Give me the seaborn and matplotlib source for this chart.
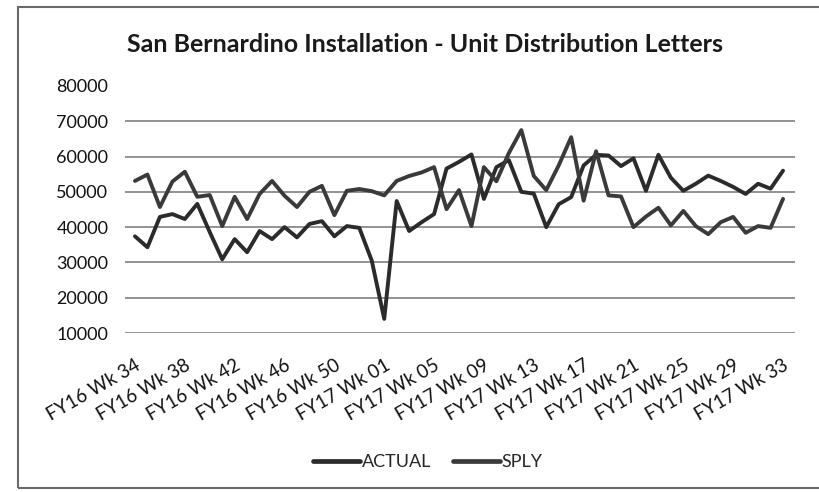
import matplotlib
matplotlib.use("Agg")
import matplotlib.pyplot as plt
import matplotlib.patches as patches
import matplotlib.transforms as mtransforms
import seaborn as sns
import pandas as pd

weeks = [f"FY16 Wk {w:02d}" for w in range(34, 54)] + [f"FY17 Wk {w:02d}" for w in range(1, 34)]

actual = [37400, 34300, 42900, 43700, 42300, 46600, 38600, 30900, 36600, 32900,
          38900, 36600, 40000, 37100, 40900, 41700, 37400, 40300, 39800, 30500,
          14000, 47400, 38900, 41400, 43700, 56600, 58500, 60600, 48000, 57000,
          59000, 50000, 49500, 40000, 46500, 48500, 57500, 60500, 60300, 57300,
          59500, 50300, 60500, 54000, 50300, 52300, 54600, 53100, 51400, 49400,
          52300, 50900, 56000]

sply = [53100, 54900, 45700, 52900, 55700, 48600, 49100, 40300, 48600, 42300,
        49400, 53100, 48900, 45700, 50000, 51700, 43400, 50300, 50800, 50200,
        49000, 53100, 54500, 55500, 57000, 45100, 50500, 40300, 57000, 53000,
        61000, 67500, 54500, 50500, 57500, 65500, 47500, 61500, 49000, 48700,
        40000, 43000, 45500, 40500, 44600, 40300, 38000, 41400, 42900, 38400,
        40300, 39800, 48000]

series_names = ["ACTUAL", "SPLY"]
y_ticks = [10000, 20000, 30000, 40000, 50000, 60000, 70000, 80000]
title = "San Bernardino Installation - Unit Distribution Letters"

df = pd.DataFrame({
    "idx": list(range(len(weeks))) * 2,
    "week": weeks * 2,
    "value": actual + sply,
    "series": [series_names[0]] * len(weeks) + [series_names[1]] * len(weeks),
})

sns.set_theme(style="white")
plt.rcParams["font.family"] = ["Lato", "DejaVu Sans"]

fig = plt.figure(figsize=(8.2, 4.92), dpi=100)
fig.patch.set_facecolor("white")
ax = fig.add_axes([125 / 820, 1 - 333 / 492, 670 / 820, (333 - 86) / 492])

palette = {"ACTUAL": "#2b2b2b", "SPLY": "#3a3a3a"}
sns.lineplot(data=df, x="idx", y="value", hue="series", palette=palette,
             linewidth=2.8, ax=ax, legend=False, sort=False)

ax.set_xlim(-0.8, len(weeks) - 1 + 0.96)
ax.set_ylim(y_ticks[0], y_ticks[-1])
ax.set_yticks(y_ticks)
ax.set_yticklabels([str(v) for v in y_ticks], fontsize=13, color="#111111")
tick_idx = list(range(0, len(weeks), 4))
ax.set_xticks(tick_idx)
ax.set_xticklabels([weeks[i] for i in tick_idx], rotation=30, ha="right",
                   rotation_mode="anchor", fontsize=13.5, color="#111111")
offset = mtransforms.ScaledTranslation(6 / 100, -2 / 100, fig.dpi_scale_trans)
for lab in ax.get_xticklabels():
    lab.set_transform(lab.get_transform() + offset)
ax.tick_params(axis="y", length=0, pad=12)
ax.tick_params(axis="x", length=0, pad=17)
ax.set_xlabel("")
ax.set_ylabel("")
for s in ax.spines.values():
    s.set_visible(False)
ax.yaxis.grid(True, color="#8a8a8a", linewidth=1.3)
ax.xaxis.grid(False)
ax.get_ygridlines()[-1].set_visible(False)

fig.text(425 / 820, 1 - 44 / 492, title, ha="center", va="center",
         fontsize=18, fontweight="bold", color="#1a1a1a")

handles = [plt.Line2D([], [], color=palette[n], linewidth=3.4) for n in series_names]
fig.legend(handles, series_names, loc="center", bbox_to_anchor=(428 / 820, 1 - 462 / 492),
           ncol=2, frameon=False, fontsize=13, handlelength=2.6, handletextpad=0.1,
           columnspacing=1.2)

border = patches.Rectangle((18 / 820, 1 - 488 / 492), (840 - 18) / 820, (488 - 7) / 492,
                           transform=fig.transFigure, fill=False, edgecolor="#6a6a6a",
                           linewidth=1.5, clip_on=False)
fig.patches.append(border)

fig.savefig("out.png", dpi=100)
